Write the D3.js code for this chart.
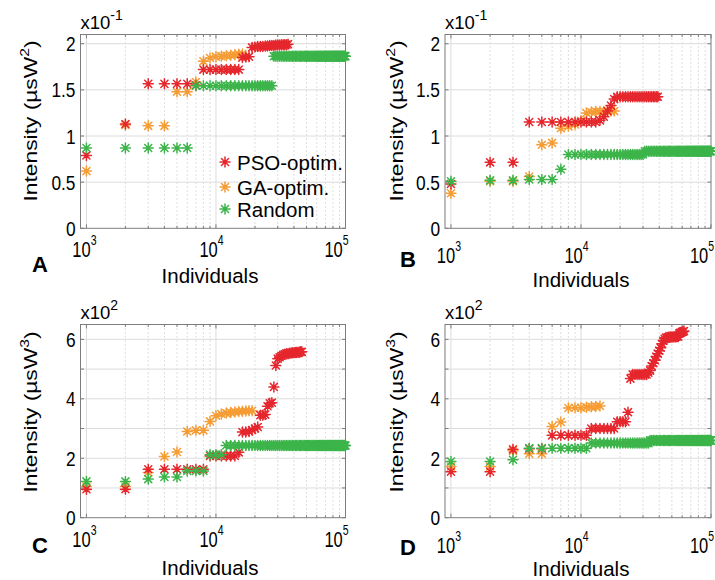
<!DOCTYPE html>
<html><head><meta charset="utf-8">
<script src="https://cdn.jsdelivr.net/npm/d3@7"></script>
<style>
body{margin:0;background:#fff}
text{font-family:"Liberation Sans",Arial,Helvetica,sans-serif;fill:#000}
</style>
</head><body>
<svg id="chart" width="715" height="580"></svg>
<script>
// ---------------- DATA ----------------
const individuals = [
1000,2000,3000,4000,5000,6000,7000,8000,9000,10000,
11000,12000,13000,14000,15000,16000,17000,18000,19000,20000,
21000,22000,23000,24000,25000,26000,27000,28000,29000,30000,
31000,32000,33000,34000,35000,36000,37000,38000,39000,40000,
41000,42000,43000,44000,45000,46000,47000,48000,49000,50000,
51000,52000,53000,54000,55000,56000,57000,58000,59000,60000,
61000,62000,63000,64000,65000,66000,67000,68000,69000,70000,
71000,72000,73000,74000,75000,76000,77000,78000,79000,80000,
81000,82000,83000,84000,85000,86000,87000,88000,89000,90000,
91000,92000,93000,94000,95000,96000,97000,98000,99000,100000];

const seriesNames = ["PSO-optim.", "GA-optim.", "Random"];
const panelLetters = ["A", "B", "C", "D"];
const xTickValues = [1000, 10000, 100000];
const xTickExponents = ["3", "4", "5"];
const yTicksAB = [0, 0.5, 1, 1.5, 2];
const yTickLabelsAB = ["0", "0.5", "1", "1.5", "2"];
const yTicksCD = [0, 1, 2, 3, 4, 5, 6];
const yTickLabelsCD = ["0", "", "2", "", "4", "", "6"];
const yExponentAB = "-1";
const yExponentCD = "2";
const yUnitPowerAB = "2";
const yUnitPowerCD = "3";

// Panel A (x10^-1 µsW^2)
const aPSO = [0.79,1.13,1.565,1.565,1.565,1.565,1.55,1.72,1.72,1.72,
1.72,1.72,1.72,1.72,1.72,1.85,1.855,1.86,1.96,1.965,
1.97,1.97,1.97,1.975,1.975,1.98,1.98,1.98,1.985,1.985,
1.985,1.99,1.99,1.99,1.99,1.995];
const aGA = [0.62,1.12,1.11,1.11,1.48,1.48,1.585,1.81,1.845,1.86,
1.865,1.87,1.875,1.88,1.885,1.89];
const aRand = [0.87,0.87,0.87,0.87,0.87,0.87,1.545,1.545,1.545,1.545,
1.545,1.545,1.545,1.545,1.545,1.545,1.545,1.545,1.545,1.545,
1.545,1.545,1.545,1.545,1.545,1.545,1.545,1.865,1.865,1.865,
1.865,1.865,1.865,1.865,1.865,1.865,1.865,1.865,1.865,1.865,
1.865,1.865,1.865,1.865,1.865,1.865,1.865,1.865,1.865,1.865,
1.865,1.865,1.865,1.865,1.865,1.865,1.865,1.865,1.865,1.865,
1.865,1.865,1.865,1.865,1.865,1.865,1.865,1.865,1.865,1.865,
1.865,1.865,1.865,1.865,1.865,1.865,1.865,1.865,1.865,1.865,
1.865,1.865,1.865,1.865,1.865,1.865,1.865,1.865,1.865,1.865,
1.865,1.865,1.865,1.865,1.865,1.865,1.865,1.865,1.865,1.865];

// Panel B (x10^-1 µsW^2)
const bPSO = [0.48,0.715,0.715,1.152,1.152,1.152,1.152,1.152,1.152,1.152,
1.152,1.152,1.152,1.17,1.21,1.27,1.33,1.40,1.425,1.425,
1.425,1.425,1.425,1.425,1.425,1.425,1.425,1.425,1.425,1.425,
1.425,1.425,1.425,1.425,1.425,1.425,1.425,1.425,1.425];
const bGA = [0.38,0.51,0.51,0.56,0.905,0.925,1.085,1.105,1.125,1.165,
1.25,1.26,1.265,1.265,1.265,1.27,1.27,1.27];
const bRand = [0.51,0.52,0.52,0.53,0.53,0.53,0.64,0.80,0.80,0.80,
0.80,0.80,0.80,0.80,0.80,0.80,0.80,0.80,0.80,0.80,
0.80,0.80,0.80,0.80,0.80,0.80,0.80,0.80,0.80,0.80,
0.835,0.835,0.835,0.835,0.835,0.835,0.835,0.835,0.835,0.835,
0.835,0.835,0.835,0.835,0.835,0.835,0.835,0.835,0.835,0.835,
0.835,0.835,0.835,0.835,0.835,0.835,0.835,0.835,0.835,0.835,
0.835,0.835,0.835,0.835,0.835,0.835,0.835,0.835,0.835,0.835,
0.835,0.835,0.835,0.835,0.835,0.835,0.835,0.835,0.835,0.835,
0.835,0.835,0.835,0.835,0.835,0.835,0.835,0.835,0.835,0.835,
0.835,0.835,0.835,0.835,0.835,0.835,0.835,0.835,0.835,0.835];

// Panel C (x10^2 µsW^3)
const cPSO = [0.96,0.96,1.63,1.63,1.63,1.63,1.63,1.63,2.08,2.08,
2.08,2.08,2.08,2.08,2.2,2.88,2.88,2.9,2.95,3.0,
3.05,3.45,3.45,3.47,3.75,3.85,3.87,4.4,5.12,5.35,
5.4,5.45,5.48,5.5,5.52,5.52,5.53,5.54,5.55,5.55,
5.56,5.56,5.57,5.57,5.58,5.58];
const cGA = [1.05,1.05,1.52,2.06,2.21,2.9,2.94,2.94,3.24,3.43,
3.49,3.52,3.54,3.56,3.57,3.58,3.59,3.6,3.6];
const cRand = [1.22,1.22,1.3,1.37,1.37,1.57,1.57,1.57,2.12,2.12,
2.12,2.43,2.43,2.43,2.43,2.43,2.43,2.43,2.43,2.43,
2.43,2.43,2.43,2.43,2.43,2.43,2.43,2.43,2.43,2.43,
2.43,2.43,2.43,2.43,2.43,2.43,2.43,2.43,2.43,2.43,
2.43,2.43,2.43,2.43,2.43,2.43,2.43,2.43,2.43,2.43,
2.43,2.43,2.43,2.43,2.43,2.43,2.43,2.43,2.43,2.43,
2.43,2.43,2.43,2.43,2.43,2.43,2.43,2.43,2.43,2.43,
2.43,2.43,2.43,2.43,2.43,2.43,2.43,2.43,2.43,2.43,
2.43,2.43,2.43,2.43,2.43,2.43,2.43,2.43,2.43,2.43,
2.43,2.43,2.43,2.43,2.43,2.43,2.43,2.43,2.43,2.43];

// Panel D (x10^2 µsW^3)
const dPSO = [1.55,1.55,2.3,2.32,2.32,2.77,2.77,2.77,2.77,2.77,
2.77,3.0,3.0,3.0,3.0,3.0,3.0,3.0,3.23,3.23,
3.23,3.23,3.55,4.68,4.82,4.82,4.82,4.82,4.82,4.82,
4.82,4.82,4.88,4.95,5.1,5.2,5.3,5.42,5.52,5.62,
5.72,5.85,5.95,6.02,6.06,6.06,6.07,6.07,6.08,6.08,
6.08,6.09,6.09,6.09,6.1,6.1,6.2,6.22,6.23,6.25,
6.26,6.28];
const dGA = [1.72,1.72,2.25,2.15,2.15,3.07,3.22,3.69,3.7,3.7,
3.72,3.73,3.74,3.76];
const dRand = [1.89,1.89,1.95,2.34,2.34,2.34,2.34,2.34,2.34,2.34,
2.34,2.51,2.51,2.51,2.51,2.51,2.51,2.51,2.51,2.51,
2.51,2.51,2.51,2.51,2.51,2.51,2.51,2.51,2.51,2.51,
2.51,2.51,2.51,2.6,2.6,2.6,2.6,2.6,2.6,2.6,
2.6,2.6,2.6,2.6,2.6,2.6,2.6,2.6,2.6,2.6,
2.6,2.6,2.6,2.6,2.6,2.6,2.6,2.6,2.6,2.6,
2.6,2.6,2.6,2.6,2.6,2.6,2.6,2.6,2.6,2.6,
2.6,2.6,2.6,2.6,2.6,2.6,2.6,2.6,2.6,2.6,
2.6,2.6,2.6,2.6,2.6,2.6,2.6,2.6,2.6,2.6,
2.6,2.6,2.6,2.6,2.6,2.6,2.6,2.6,2.6,2.6];

// ---------------- LAYOUT / STYLE ----------------
const colors = {pso: "#e5272d", ga: "#f59c34", rnd: "#3cb44a"};
const xDomain = [900, 100000];
const panels = [
  {letter: panelLetters[0], pso: aPSO, ga: aGA, rnd: aRand, L: 80.5, R: 345.5, T: 34.5, B: 228.3, yMax: 2.1,
   ticks: yTicksAB, tickLabels: yTickLabelsAB, exp: yExponentAB, pow: yUnitPowerAB,
   xlabY: 257, indY: 283, indX: 210, letX: 32, letY: 272, ylabX: 37, ylabY: 121, expY: 29, legend: true},
  {letter: panelLetters[1], pso: bPSO, ga: bGA, rnd: bRand, L: 445, R: 711, T: 34.5, B: 228.3, yMax: 2.1,
   ticks: yTicksAB, tickLabels: yTickLabelsAB, exp: yExponentAB, pow: yUnitPowerAB,
   xlabY: 263, indY: 287, indX: 581, letX: 400, letY: 267, ylabX: 403, ylabY: 121, expY: 29},
  {letter: panelLetters[2], pso: cPSO, ga: cGA, rnd: cRand, L: 80.5, R: 345.5, T: 324.5, B: 517.7, yMax: 6.5,
   ticks: yTicksCD, tickLabels: yTickLabelsCD, exp: yExponentCD, pow: yUnitPowerCD,
   xlabY: 547, indY: 575, indX: 210, letX: 32, letY: 553, ylabX: 37, ylabY: 412, expY: 319},
  {letter: panelLetters[3], pso: dPSO, ga: dGA, rnd: dRand, L: 445, R: 711, T: 324.5, B: 517.7, yMax: 6.5,
   ticks: yTicksCD, tickLabels: yTickLabelsCD, exp: yExponentCD, pow: yUnitPowerCD,
   xlabY: 553, indY: 576, indX: 581, letX: 400, letY: 555, ylabX: 403, ylabY: 412, expY: 319}
];
const xLabelShift = [-2, -4.5, -9];
const axisColor = "#7d7d7d";
const r = 5, dd = r * 0.7071;
const starPath = `M${-r},0L${r},0M0,${-r}L0,${r}M${-dd},${-dd}L${dd},${dd}M${-dd},${dd}L${dd},${-dd}`;
const markerWidth = 1.5;

const svg = d3.select("#chart");

const minorTicks = [];
[1000, 10000].forEach(dec => { for (let k = 2; k <= 9; k++) minorTicks.push(dec * k); });

panels.forEach(p => {
  const x = d3.scaleLog().domain(xDomain).range([p.L, p.R]);
  const y = d3.scaleLinear().domain([0, p.yMax]).range([p.B, p.T]);
  const g = svg.append("g");

  // minor vertical dotted grid
  g.selectAll(".mg").data(minorTicks).join("line")
    .attr("x1", d => x(d)).attr("x2", d => x(d)).attr("y1", p.T).attr("y2", p.B)
    .attr("stroke", "#b5b5b5").attr("stroke-width", 0.9).attr("stroke-dasharray", "1,3");
  // major vertical grid
  g.selectAll(".Mg").data(xTickValues.filter(v => x(v) > p.L + 1 && x(v) < p.R - 1)).join("line")
    .attr("x1", d => x(d)).attr("x2", d => x(d)).attr("y1", p.T).attr("y2", p.B)
    .attr("stroke", "#dcdcdc").attr("stroke-width", 1);
  // horizontal grid
  g.selectAll(".hg").data(p.ticks.filter(v => v > 0)).join("line")
    .attr("x1", p.L).attr("x2", p.R).attr("y1", d => y(d)).attr("y2", d => y(d))
    .attr("stroke", "#dcdcdc").attr("stroke-width", 1);

  // box
  g.append("rect").attr("x", p.L).attr("y", p.T).attr("width", p.R - p.L).attr("height", p.B - p.T)
    .attr("fill", "none").attr("stroke", axisColor).attr("stroke-width", 1);

  // ticks (inward, all sides)
  const tk = g.append("g").attr("stroke", axisColor).attr("stroke-width", 1);
  xTickValues.concat(minorTicks).forEach(v => {
    const len = xTickValues.includes(v) ? 4 : 2.5;
    const xx = x(v);
    tk.append("line").attr("x1", xx).attr("x2", xx).attr("y1", p.B).attr("y2", p.B - len);
    tk.append("line").attr("x1", xx).attr("x2", xx).attr("y1", p.T).attr("y2", p.T + len);
  });
  p.ticks.forEach(v => {
    const yy = y(v);
    tk.append("line").attr("x1", p.L).attr("x2", p.L + 3.5).attr("y1", yy).attr("y2", yy);
    tk.append("line").attr("x1", p.R).attr("x2", p.R - 3.5).attr("y1", yy).attr("y2", yy);
  });

  // y tick labels (tall, narrow glyphs as in the source)
  g.selectAll(".yl").data(p.ticks.map((v, i) => ({v, t: p.tickLabels[i]})).filter(d => d.t !== "")).join("text")
    .attr("transform", d => `translate(${p.L - 5},${y(d.v)}) scale(1,1.21)`)
    .attr("dy", "0.36em")
    .attr("text-anchor", "end").attr("font-size", 17.3).text(d => d.t);

  // x tick labels
  xTickValues.forEach((v, i) => {
    const t = g.append("text")
      .attr("transform", `translate(${x(v) + xLabelShift[i]},${p.xlabY}) scale(1,1.35)`)
      .attr("text-anchor", "middle").attr("font-size", 16.5);
    t.append("tspan").text("10");
    t.append("tspan").attr("dy", -8.6).attr("font-size", 10.5).text(xTickExponents[i]);
  });

  // exponent label
  const ex = g.append("text").attr("x", p.L).attr("y", p.expY).attr("font-size", 18.5);
  ex.append("tspan").text("x10");
  ex.append("tspan").attr("dy", -9).attr("font-size", 14).text(p.exp);

  // axis labels
  g.append("text").attr("x", p.indX).attr("y", p.indY).attr("text-anchor", "middle")
    .attr("font-size", 20.5).text("Individuals");
  const yl = g.append("text")
    .attr("transform", `translate(${p.ylabX},${p.ylabY}) rotate(-90) scale(1.2,1)`)
    .attr("text-anchor", "middle").attr("font-size", 19);
  yl.append("tspan").text("Intensity (µsW");
  yl.append("tspan").attr("dy", -8).attr("font-size", 13).text(p.pow);
  yl.append("tspan").attr("dy", 8).text(")");

  // panel letter
  g.append("text").attr("x", p.letX).attr("y", p.letY).attr("font-size", 22)
    .attr("font-weight", "bold").text(p.letter);

  // series: GA first, PSO, then Random on top
  const order = [["ga", p.ga], ["pso", p.pso], ["rnd", p.rnd]];
  order.forEach(([key, vals]) => {
    g.append("g").selectAll("path").data(vals).join("path")
      .attr("transform", (d, i) => `translate(${x(individuals[i])},${y(d)})`)
      .attr("d", starPath).attr("fill", "none")
      .attr("stroke", colors[key]).attr("stroke-width", markerWidth).attr("stroke-linecap", "round");
  });

  // legend
  if (p.legend) {
    const keys = ["pso", "ga", "rnd"];
    const baselines = [170, 195, 217];
    keys.forEach((k, i) => {
      g.append("path").attr("transform", `translate(225,${baselines[i] - 8})`)
        .attr("d", starPath).attr("fill", "none").attr("stroke", colors[k])
        .attr("stroke-width", markerWidth).attr("stroke-linecap", "round");
      g.append("text").attr("x", 237).attr("y", baselines[i]).attr("font-size", 20.5).text(seriesNames[i]);
    });
  }
});
</script>
</body></html>
